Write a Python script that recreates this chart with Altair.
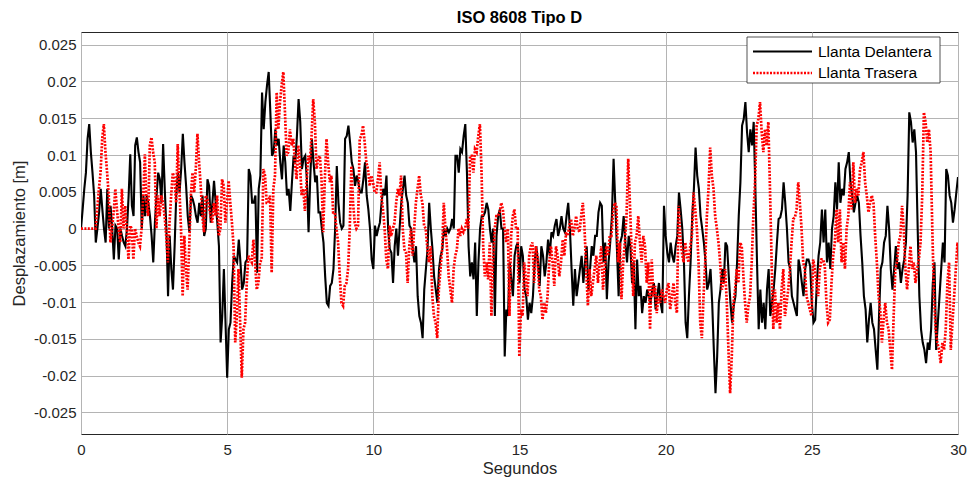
import altair as alt
import numpy as np
import pandas as pd

# ---------------- data ----------------
SEG_STARTS = [0, 5, 10, 15, 20, 25]      # seconds; each segment spans 5 s
SEG_LEN_S = 5
REAR_DELAY_S = 0.5                        # rear trace starts 0.5 s later (flat zero before)

# Llanta Delantera, displacement in mm, one list per 5-s segment
FRONT_MM = [
    [0, 2.6, 5.4, 7.6, 12.2, 14.2, 10.4, 7.6, 4.5, -1.9,
     0, 2.2, 5.4, 2.6, 0, -1.9, 5.4, 0, 3.1, 0,
     -4.2, 0.4, 0, -4.2, 0, -1, -1.9, -2.4, 0, 4.5,
     10.1, 3.1, 1.7, 11.3, 12.4, 10.4, 9, 0, 4.5, 1.7,
     4.5, 3.5, 1.7, -1, -4.6, 0.8, 4.5, 7.6, 6.7, 3.5,
     11.5, 5.4, 0, -9.2, -1, -5.5, -8.3, -2.4, 4.5, 7.6,
     4.9, 8.1, 12.9, 9, 5.8, 1.7, -0.5, 4.5, 4, 3.1,
     1.7, 0.8, 3.5, 1.7, 4.5, -1, 0, 6.7, 5.8, 0.8,
     3.5, 6.5, 3.5, 0.8, -2.4, -15.5, -11.9, -5.5, -12.8],
    [-20.3, -13.7, -12.8, -7.4, -3.7, -4.2, -4.6, -1.5, -4.6, -8.3,
     -7.4, -4.6, -4.2, 8.1, 7.2, 3.5, 3.5, 4.5, -6, 5.4,
     7.2, 18.5, 13.5, 17.2, 19.5, 21.3, 15.8, 9.9, 10.4, 13.5,
     11.3, 12.2, 9, 6.7, 11.3, 9, 4.5, 5.4, 2.4, 6.3,
     9.9, 9, 12.6, 17.6, 14.5, 8.1, 9.5, 9.9, 6.7, -0.5,
     6.7, 12.2, 9, 6.3, 7.2, 2.2, 2.2, 0, -1.9, -6.5,
     -10.1, -10.5, -7.8, -7.4, -5.5, 0, 8.5, 3.5, 0.8, 0,
     0.4, 12.2, 12.6, 14, 11.7, 9, 8.1, 5.8, 7.2, 6.3,
     4.9, 4.9, 6.7, 9, 4.5, 2.6, 0, -4.2],
    [-5.5, 0.4, -1, 0, 0.8, 3.5, 5.4, 4.5, 7.2, 0,
     -2.8, -3.3, -7.4, -2.4, 0, -3.7, 0, 3.5, 5.4, 7.2,
     4.5, 3.5, 0.4, 0, -2.8, -4.6, -2.4, -9.2, -11.9, -12.8,
     -14.9, -8.3, -5.5, -2.8, 3.5, 0, -2.8, -6.5, -8.3, -10.1,
     -5.5, -3.7, -2.8, 0, -1, 0, -0.5, 0, 1.3, 0,
     9.9, 9.9, 7.6, 10.8, 10.4, 12.6, 14.2, 7.6, -2.4, -6.5,
     -4.6, -6.9, -1.9, -11.9, -4.6, 0, 1.7, 1.7, 2.2, 3.5,
     2.6, 0, -1.9, 0, -11.9, -1, 1.7, 2.6, 0, 0,
     -17.4, -11, -11.9, -4.6, -6.9, -9.2, -3.7, -2.4, -1.9],
    [-7.4, -2.4, -3.7, -8.3, -9.2, -12.4, -10.1, -11.5, -9.2, -4.6,
     -2.4, -4.6, -7.8, -2.4, -3.7, -6.5, -4.6, -1.5, -3.7, -0.5,
     -1, 0.4, 1.3, -1, 0, 1.7, 0, -0.5, 1.7, 3.5,
     0, -5.5, -10.5, -5.5, -9.2, -7.4, -5.5, -3.7, -7.4, -4.6,
     -2.4, -8.3, -5.5, -2.4, -3.7, -1, -1, 2.2, 3.5, 3.1,
     -4.6, -1.9, -9.6, -4.6, -1.9, 1.7, 9.5, 3.5, -2.8, -9.2,
     -1.9, -1, 1.7, -1.9, -4.6, -1, -2.4, -7.4, -4.6, -13.7,
     -4.2, -9.2, -7.8, -11.5, -9.2, -10.1, -8.3, -9.2, -10.1, -8.3,
     -7.4, -11, -9.2, -7.4, -10.1, -11.5, 3.1],
    [-1, -3.3, -4.6, -1.9, -3.7, -4.6, -2.4, -1, 4.9, 2.6,
     0, -4.6, -12.8, -14.9, -9.2, -4.6, 1.7, 5.4, 11, 7.2,
     5.4, 1.7, 0, -1.9, -4.6, -8.3, -7.4, -5.5, -10.1, -16.5,
     -22.4, -17.4, -10.1, -8.3, -5.5, -7.4, -1.9, -2.4, -6.5, -10.1,
     -12.8, -10.5, -9.2, -4.6, 1.7, 6.3, 14, 14.9, 17.2, 13.1,
     10.4, 13.5, 11.3, 14.5, 5.4, -4.6, -13.7, -8.3, -12.8, -10.1,
     -13.7, -8.3, -5.5, -11.9, -10.1, -8.3, -5.5, -1.9, 1.3, 1.5,
     2.6, 6.3, 3.5, 0, -4.6, -5.5, -9.2, -10.1, -11, -11.9,
     -4.2, -5.5, -7.4, -9.2, -5.5, -4.2, -4.2, -5.1],
    [-10.1, -12.8, -12.4, -7.4, -3.7, -1.9, 2.6, -1.9, 2.6, -4.6,
     -1.9, -5.5, 0, 1.7, 6.3, 2.6, 9, 3.5, 5.4, 4.5,
     8.1, 9, 10.4, 6.3, 4.5, 2.2, 3.5, 4.5, 3.5, -1,
     -4.6, -9.2, -11, -15.5, -12.4, -10.1, -12.8, -13.7, -16.5, -19.2,
     -11.9, -5.5, -4.6, -1.9, -1, 3.1, 0, -5.5, -8.3, -5.5,
     -2.4, -5.5, -4.6, -7.4, -5.5, -4.2, -1.9, 4.5, 15.8, 14.5,
     11.7, 13.5, 10.4, 0, -9.2, -13.7, -15.5, -16.5, -18.3, -15.5,
     -16.5, -13.7, -7.4, -4.6, -16.5, -12.8, -9.2, -5.5, -1.9, -4.6,
     8.1, 7.2, 4.5, 3.5, 0.8, 2.6, 4.9, 7],
]

# Llanta Trasera, displacement in mm (read as the same profile arriving 0.5 s later)
REAR_MM = [
    [0, 2.6, 5.4, 7.6, 12.2, 14.2, 10.4, 7.6, 4.5, -1.9,
     0, 2.2, 5.4, 2.6, 0, -1.9, 5.4, 0, 3.1, 0,
     -4.2, 0.4, 0, -4.2, 0, -1, -1.9, -2.4, 0, 4.5,
     10.1, 3.1, 1.7, 11.3, 12.4, 10.4, 9, 0, 4.5, 1.7,
     4.5, 3.5, 1.7, -1, -4.6, 0.8, 4.5, 7.6, 6.7, 3.5,
     11.5, 5.4, 0, -9.2, -1, -5.5, -8.3, -2.4, 4.5, 7.6,
     4.9, 8.1, 12.9, 9, 5.8, 1.7, -0.5, 4.5, 4, 3.1,
     1.7, 0.8, 3.5, 1.7, 4.5, -1, 0, 6.7, 5.8, 0.8,
     3.5, 6.5, 3.5, 0.8, -2.4, -15.5, -11.9, -5.5, -12.8],
    [-20.3, -13.7, -12.8, -7.4, -3.7, -4.2, -4.6, -1.5, -4.6, -8.3,
     -7.4, -4.6, -4.2, 8.1, 7.2, 3.5, 3.5, 4.5, -6, 5.4,
     7.2, 18.5, 13.5, 17.2, 19.5, 21.3, 15.8, 9.9, 10.4, 13.5,
     11.3, 12.2, 9, 6.7, 11.3, 9, 4.5, 5.4, 2.4, 6.3,
     9.9, 9, 12.6, 17.6, 14.5, 8.1, 9.5, 9.9, 6.7, -0.5,
     6.7, 12.2, 9, 6.3, 7.2, 2.2, 2.2, 0, -1.9, -6.5,
     -10.1, -10.5, -7.8, -7.4, -5.5, 0, 8.5, 3.5, 0.8, 0,
     0.4, 12.2, 12.6, 14, 11.7, 9, 8.1, 5.8, 7.2, 6.3,
     4.9, 4.9, 6.7, 9, 4.5, 2.6, 0, -4.2],
    [-5.5, 0.4, -1, 0, 0.8, 3.5, 5.4, 4.5, 7.2, 0,
     -2.8, -3.3, -7.4, -2.4, 0, -3.7, 0, 3.5, 5.4, 7.2,
     4.5, 3.5, 0.4, 0, -2.8, -4.6, -2.4, -9.2, -11.9, -12.8,
     -14.9, -8.3, -5.5, -2.8, 3.5, 0, -2.8, -6.5, -8.3, -10.1,
     -5.5, -3.7, -2.8, 0, -1, 0, -0.5, 0, 1.3, 0,
     9.9, 9.9, 7.6, 10.8, 10.4, 12.6, 14.2, 7.6, -2.4, -6.5,
     -4.6, -6.9, -1.9, -11.9, -4.6, 0, 1.7, 1.7, 2.2, 3.5,
     2.6, 0, -1.9, 0, -11.9, -1, 1.7, 2.6, 0, 0,
     -17.4, -11, -11.9, -4.6, -6.9, -9.2, -3.7, -2.4, -1.9],
    [-7.4, -2.4, -3.7, -8.3, -9.2, -12.4, -10.1, -11.5, -9.2, -4.6,
     -2.4, -4.6, -7.8, -2.4, -3.7, -6.5, -4.6, -1.5, -3.7, -0.5,
     -1, 0.4, 1.3, -1, 0, 1.7, 0, -0.5, 1.7, 3.5,
     0, -5.5, -10.5, -5.5, -9.2, -7.4, -5.5, -3.7, -7.4, -4.6,
     -2.4, -8.3, -5.5, -2.4, -3.7, -1, -1, 2.2, 3.5, 3.1,
     -4.6, -1.9, -9.6, -4.6, -1.9, 1.7, 9.5, 3.5, -2.8, -9.2,
     -1.9, -1, 1.7, -1.9, -4.6, -1, -2.4, -7.4, -4.6, -13.7,
     -4.2, -9.2, -7.8, -11.5, -9.2, -10.1, -8.3, -9.2, -10.1, -8.3,
     -7.4, -11, -9.2, -7.4, -10.1, -11.5, 3.1],
    [-1, -3.3, -4.6, -1.9, -3.7, -4.6, -2.4, -1, 4.9, 2.6,
     0, -4.6, -12.8, -14.9, -9.2, -4.6, 1.7, 5.4, 11, 7.2,
     5.4, 1.7, 0, -1.9, -4.6, -8.3, -7.4, -5.5, -10.1, -16.5,
     -22.4, -17.4, -10.1, -8.3, -5.5, -7.4, -1.9, -2.4, -6.5, -10.1,
     -12.8, -10.5, -9.2, -4.6, 1.7, 6.3, 14, 14.9, 17.2, 13.1,
     10.4, 13.5, 11.3, 14.5, 5.4, -4.6, -13.7, -8.3, -12.8, -10.1,
     -13.7, -8.3, -5.5, -11.9, -10.1, -8.3, -5.5, -1.9, 1.3, 1.5,
     2.6, 6.3, 3.5, 0, -4.6, -5.5, -9.2, -10.1, -11, -11.9,
     -4.2, -5.5, -7.4, -9.2, -5.5, -4.2, -4.2, -5.1],
    [-10.1, -12.8, -12.4, -7.4, -3.7, -1.9, 2.6, -1.9, 2.6, -4.6,
     -1.9, -5.5, 0, 1.7, 6.3, 2.6, 9, 3.5, 5.4, 4.5,
     8.1, 9, 10.4, 6.3, 4.5, 2.2, 3.5, 4.5, 3.5, -1,
     -4.6, -9.2, -11, -15.5, -12.4, -10.1, -12.8, -13.7, -16.5, -19.2,
     -11.9, -5.5, -4.6, -1.9, -1, 3.1, 0, -5.5, -8.3, -5.5,
     -2.4, -5.5, -4.6, -7.4, -5.5, -4.2, -1.9, 4.5, 15.8, 14.5,
     11.7, 13.5, 10.4, 0, -9.2, -13.7, -15.5, -16.5, -18.3, -15.5,
     -16.5, -13.7, -7.4, -4.6, -16.5, -12.8, -9.2, -5.5, -1.9, -4.6,
     8.1, 7.2, 4.5, 3.5, 0.8, 2.6, 4.9, 7],
]

SERIES = ["Llanta Delantera", "Llanta Trasera"]
COLORS = ["#000000", "#ff0000"]
X_TICKS = [0, 5, 10, 15, 20, 25, 30]
Y_TICKS = [-0.025, -0.02, -0.015, -0.01, -0.005, 0, 0.005, 0.01, 0.015, 0.02, 0.025]
X_DOMAIN = [0, 30]
Y_DOMAIN = [-0.02794, 0.02673]
TITLE = "ISO 8608 Tipo D"
X_TITLE = "Segundos"
Y_TITLE = "Desplazamiento [m]"

# ---------------- build tables ----------------
def seg_times(i, n):
    s = SEG_STARTS[i]
    return np.linspace(s, s + SEG_LEN_S, n, endpoint=(i == len(SEG_STARTS) - 1))

front_t = np.concatenate([seg_times(i, len(v)) for i, v in enumerate(FRONT_MM)])
front_v = np.concatenate([np.array(v, float) for v in FRONT_MM]) / 1000.0
rear_t = np.concatenate([[0.0]] + [seg_times(i, len(v)) + REAR_DELAY_S for i, v in enumerate(REAR_MM)])
rear_v = np.concatenate([[0.0]] + [np.array(v, float) for v in REAR_MM]) / 1000.0

df_front = pd.DataFrame({"t": front_t, "d": front_v})
df_rear = pd.DataFrame({"t": rear_t, "d": rear_v})

FONT = "Liberation Sans"
TXT = "#262626"
BLACK_W = 2.1
RED_W = 2.7
RED_DASH = [2, 1.4]

x_enc = alt.X(
    "t:Q",
    scale=alt.Scale(domain=X_DOMAIN, nice=False, zero=False),
    axis=alt.Axis(values=X_TICKS, title=X_TITLE, labelFlush=False, labelPadding=8,
                  titlePadding=3, format="d"),
)
y_enc = alt.Y(
    "d:Q",
    scale=alt.Scale(domain=Y_DOMAIN, nice=False, zero=False),
    axis=alt.Axis(values=Y_TICKS, title=Y_TITLE, labelPadding=5, titlePadding=6,
                  labelExpr="replace(format(datum.value, '~g'), '\u2212', '-')"),
)

front = alt.Chart(df_front).mark_line(
    color=COLORS[0], strokeWidth=BLACK_W, clip=True
).encode(x=x_enc, y=y_enc)

rear = alt.Chart(df_rear).mark_line(
    color=COLORS[1], strokeWidth=RED_W, strokeDash=RED_DASH, clip=True
).encode(x="t:Q", y="d:Q")

one = pd.DataFrame({"k": [0]})
leg_box = alt.Chart(one).mark_rect(fill="white", stroke=TXT, strokeWidth=0.8).encode(
    x=alt.value(666), x2=alt.value(859), y=alt.value(5), y2=alt.value(51)
)
leg_l1 = alt.Chart(one).mark_rule(color=COLORS[0], strokeWidth=BLACK_W).encode(
    x=alt.value(672), x2=alt.value(731), y=alt.value(19.5)
)
leg_l2 = alt.Chart(one).mark_rule(color=COLORS[1], strokeWidth=RED_W, strokeDash=RED_DASH).encode(
    x=alt.value(672), x2=alt.value(731), y=alt.value(41)
)
leg_t1 = alt.Chart(one).mark_text(align="left", baseline="middle", font=FONT, fontSize=15.5,
                                  color="#000000").encode(
    x=alt.value(737), y=alt.value(19.5), text=alt.value(SERIES[0])
)
leg_t2 = alt.Chart(one).mark_text(align="left", baseline="middle", font=FONT, fontSize=15.5,
                                  color="#000000").encode(
    x=alt.value(737), y=alt.value(41), text=alt.value(SERIES[1])
)

chart = (
    alt.layer(front, rear, leg_box, leg_l1, leg_l2, leg_t1, leg_t2)
    .properties(
        width=877, height=402,
        title=alt.TitleParams(TITLE, font=FONT, fontSize=16.5, fontWeight="bold",
                              color="#000000", anchor="middle", offset=6),
        autosize=alt.AutoSizeParams(type="none"),
        padding={"left": 81, "top": 32, "right": 13, "bottom": 47},
        background="white",
    )
    .configure_view(stroke=TXT, strokeWidth=1)
    .configure_axis(
        labelFont=FONT, titleFont=FONT, labelFontSize=15, titleFontSize=16.5,
        labelColor=TXT, titleColor=TXT, titleFontWeight="normal",
        grid=True, gridColor="#b4b4b4", gridWidth=1, domain=False, ticks=False,
    )
)

chart.save("out.html", embed_options={"renderer": "svg", "actions": False})
